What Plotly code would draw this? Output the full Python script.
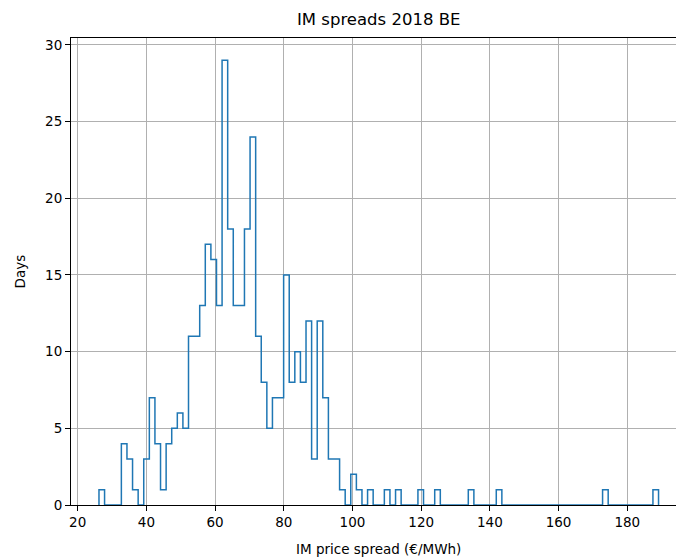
import numpy as np
import plotly.graph_objects as go

# Daily IM price spreads, Belgium 2018: histogram with 100 equal-width bins
spread_min = 26.2   # €/MWh, smallest daily spread
spread_max = 189.1  # €/MWh, largest daily spread
n_bins = 100

days_per_bin = [
    1, 0, 0, 0, 4, 3, 1, 0, 3, 7,
    4, 1, 4, 5, 6, 5, 11, 11, 13, 17,
    16, 13, 29, 18, 13, 13, 18, 24, 11, 8,
    5, 7, 7, 15, 8, 10, 8, 12, 3, 12,
    7, 3, 3, 1, 0, 2, 1, 0, 1, 0,
    0, 1, 0, 1, 0, 0, 0, 1, 0, 0,
    1, 0, 0, 0, 0, 0, 1, 0, 0, 0,
    0, 1, 0, 0, 0, 0, 0, 0, 0, 0,
    0, 0, 0, 0, 0, 0, 0, 0, 0, 0,
    1, 0, 0, 0, 0, 0, 0, 0, 0, 1,
]

x_ticks = [20, 40, 60, 80, 100, 120, 140, 160, 180]
y_ticks = [0, 5, 10, 15, 20, 25, 30]

edges = np.linspace(spread_min, spread_max, n_bins + 1)

# Step outline: rise from the baseline at the first edge, fall back at the last
step_x = [edges[0]] + list(edges)
step_y = [0] + list(days_per_bin) + [0]

font = "DejaVu Sans"

fig = go.Figure()
fig.add_trace(go.Scatter(
    x=step_x, y=step_y,
    mode="lines",
    line=dict(color="#1f77b4", width=1.5, shape="hv"),
    hoverinfo="skip",
    showlegend=False,
))

pad = 0.05 * (spread_max - spread_min)
x_lo = spread_min - pad
px_per_unit = 3.435
plot_w = 605
x_hi = x_lo + plot_w / px_per_unit

axis_common = dict(
    showgrid=True, gridcolor="#b0b0b0", gridwidth=1.1,
    showline=True, linecolor="black", linewidth=1.1, mirror=True,
    ticks="outside", ticklen=5, tickwidth=1.1, tickcolor="black",
    tickfont=dict(family=font, size=13.5, color="black"),
    zeroline=False,
)

fig.update_layout(
    width=676, height=560,
    margin=dict(l=71, r=0, t=38, b=55),
    plot_bgcolor="white", paper_bgcolor="white",
    xaxis=dict(range=[x_lo, x_hi], tickvals=x_ticks, **axis_common),
    yaxis=dict(range=[0, max(days_per_bin) * 1.05], tickvals=y_ticks, **axis_common),
    showlegend=False,
)

# Centre of the full axes span (which runs a little past the right edge)
axes_center = (spread_min - pad + spread_max + pad) / 2
cx = (axes_center - x_lo) / (x_hi - x_lo)

fig.add_annotation(
    text="IM spreads 2018 BE", xref="paper", yref="paper",
    x=cx, y=1, yshift=7, xanchor="center", yanchor="bottom",
    showarrow=False, font=dict(family=font, size=16.5, color="black"),
)
fig.add_annotation(
    text="IM price spread (€/MWh)", xref="paper", yref="paper",
    x=cx, y=0, yshift=-34, xanchor="center", yanchor="top",
    showarrow=False, font=dict(family=font, size=13.5, color="black"),
)
fig.add_annotation(
    text="Days", xref="paper", yref="paper",
    x=0, xshift=-52, y=0.5, xanchor="center", yanchor="middle",
    textangle=-90, showarrow=False,
    font=dict(family=font, size=13.5, color="black"),
)

fig.write_html("out.html")
